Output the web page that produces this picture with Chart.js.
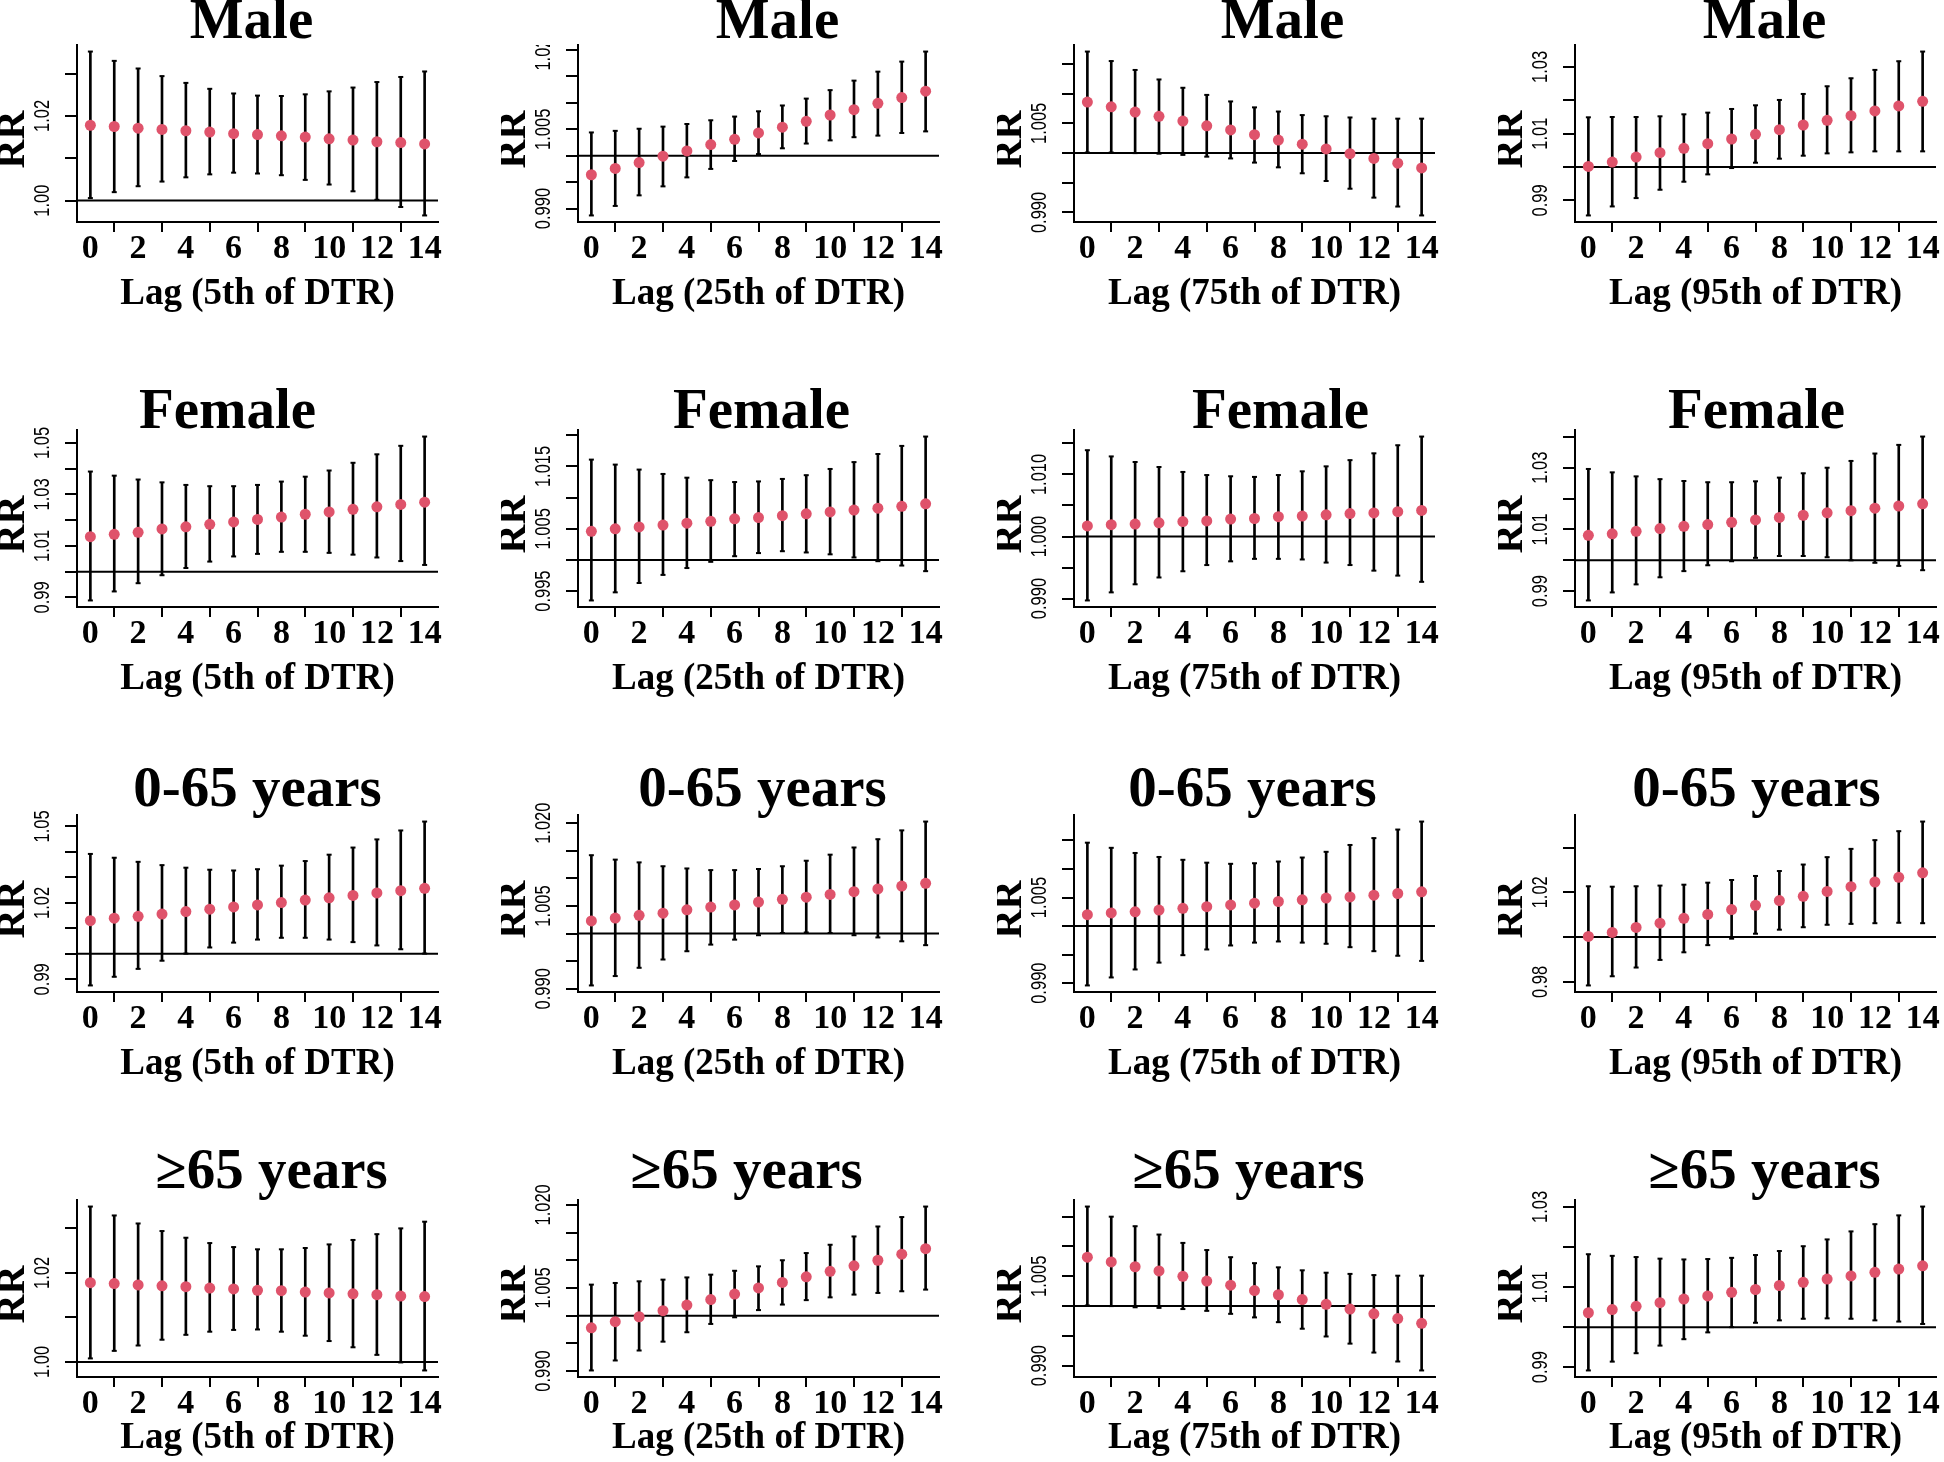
<!DOCTYPE html>
<html>
<head>
<meta charset="utf-8">
<script src="https://cdn.jsdelivr.net/npm/chart.js@4.4.1/dist/chart.umd.min.js"></script>
<style>
body{margin:0;background:#fff;}
#wrap{position:relative;width:1944px;height:1462px;overflow:hidden;background:#fff;}
#wrap canvas{position:absolute;}
</style>
</head>
<body>
<div id="wrap"></div>
<script>
// lags and axis ticks
var lags = [0,1,2,3,4,5,6,7,8,9,10,11,12,13,14];
var xTicks = [0,2,4,6,8,10,12,14];

var rowTitles = ['Male', 'Female', '0-65 years', '\u226565 years'];
var colTitles = ['Lag (5th of DTR)', 'Lag (25th of DTR)', 'Lag (75th of DTR)', 'Lag (95th of DTR)'];

// Male
var male5Est = [1.0178,1.0175,1.0171,1.0168,1.0165,1.0162,1.0158,1.0156,1.0153,1.0150,1.0146,1.0143,1.0139,1.0137,1.0134];
var male5Lo  = [1.0006,1.0020,1.0034,1.0045,1.0055,1.0062,1.0066,1.0064,1.0060,1.0049,1.0038,1.0022,1.0002,0.9985,0.9965];
var male5Hi  = [1.0352,1.0330,1.0312,1.0294,1.0278,1.0264,1.0253,1.0248,1.0247,1.0251,1.0258,1.0267,1.0280,1.0292,1.0305];
var male5Ticks = [1.00,1.01,1.02,1.03];
var male5Text  = ['1.00','','1.02',''];

var male25Est = [0.9964,0.9976,0.9987,0.9999,1.0009,1.0021,1.0031,1.0043,1.0054,1.0065,1.0077,1.0087,1.0099,1.0110,1.0122];
var male25Lo  = [0.9887,0.9905,0.9925,0.9942,0.9959,0.9975,0.9990,1.0003,1.0014,1.0023,1.0029,1.0035,1.0038,1.0043,1.0046];
var male25Hi  = [1.0044,1.0047,1.0051,1.0055,1.0060,1.0067,1.0074,1.0084,1.0095,1.0108,1.0124,1.0142,1.0159,1.0178,1.0197];
var male25Ticks = [0.990,0.995,1.000,1.005,1.010,1.015,1.020];
var male25Text  = ['0.990','','','1.005','','','1.020'];

var male75Est = [1.0086,1.0078,1.0069,1.0062,1.0054,1.0046,1.0039,1.0031,1.0022,1.0015,1.0007,0.9999,0.9991,0.9983,0.9975];
var male75Lo  = [1.0001,1.0001,1.0000,0.9999,0.9997,0.9994,0.9991,0.9984,0.9976,0.9966,0.9953,0.9940,0.9925,0.9910,0.9895];
var male75Hi  = [1.0171,1.0155,1.0140,1.0124,1.0110,1.0098,1.0087,1.0077,1.0070,1.0064,1.0062,1.0060,1.0058,1.0058,1.0058];
var male75Ticks = [0.990,0.995,1.000,1.005,1.010,1.015];
var male75Text  = ['0.990','','','1.005','',''];

var male95Est = [1.0002,1.0015,1.0030,1.0043,1.0056,1.0070,1.0084,1.0098,1.0112,1.0126,1.0140,1.0154,1.0168,1.0183,1.0197];
var male95Lo  = [0.9855,0.9882,0.9907,0.9932,0.9956,0.9978,0.9997,1.0013,1.0025,1.0034,1.0041,1.0044,1.0047,1.0047,1.0047];
var male95Hi  = [1.0149,1.0150,1.0150,1.0152,1.0158,1.0163,1.0174,1.0185,1.0201,1.0219,1.0242,1.0266,1.0291,1.0317,1.0346];
var male95Ticks = [0.99,1.00,1.01,1.02,1.03];
var male95Text  = ['0.99','','1.01','','1.03'];

// Female
var female5Est = [1.0136,1.0145,1.0153,1.0166,1.0174,1.0184,1.0193,1.0203,1.0212,1.0223,1.0232,1.0242,1.0252,1.0261,1.0270];
var female5Lo  = [0.9888,0.9923,0.9955,0.9986,1.0014,1.0039,1.0059,1.0069,1.0077,1.0077,1.0073,1.0066,1.0055,1.0041,1.0026];
var female5Hi  = [1.0389,1.0373,1.0358,1.0347,1.0337,1.0332,1.0332,1.0337,1.0350,1.0369,1.0393,1.0423,1.0456,1.0489,1.0525];
var female5Ticks = [0.99,1.00,1.01,1.02,1.03,1.04,1.05];
var female5Text  = ['0.99','','1.01','','1.03','','1.05'];

var female25Est = [1.0046,1.0050,1.0053,1.0056,1.0059,1.0062,1.0066,1.0068,1.0071,1.0074,1.0077,1.0080,1.0083,1.0086,1.0090];
var female25Lo  = [0.9935,0.9948,0.9963,0.9976,0.9987,0.9997,1.0006,1.0011,1.0014,1.0012,1.0009,1.0004,0.9998,0.9991,0.9982];
var female25Hi  = [1.0161,1.0153,1.0145,1.0138,1.0132,1.0128,1.0125,1.0126,1.0130,1.0136,1.0146,1.0157,1.0170,1.0183,1.0198];
var female25Ticks = [0.995,1.000,1.005,1.010,1.015,1.020];
var female25Text  = ['0.995','','1.005','','1.015',''];

var female75Est = [1.0017,1.0019,1.0020,1.0022,1.0024,1.0025,1.0028,1.0029,1.0032,1.0033,1.0035,1.0037,1.0038,1.0040,1.0042];
var female75Lo  = [0.9897,0.9910,0.9923,0.9934,0.9944,0.9954,0.9960,0.9964,0.9964,0.9963,0.9958,0.9954,0.9945,0.9937,0.9927];
var female75Hi  = [1.0139,1.0129,1.0120,1.0112,1.0104,1.0099,1.0097,1.0096,1.0099,1.0105,1.0113,1.0123,1.0134,1.0147,1.0161];
var female75Ticks = [0.990,0.995,1.000,1.005,1.010,1.015];
var female75Text  = ['0.990','','1.000','','1.010',''];

var female95Est = [1.0081,1.0086,1.0094,1.0103,1.0110,1.0116,1.0123,1.0131,1.0139,1.0146,1.0154,1.0161,1.0169,1.0176,1.0183];
var female95Lo  = [0.9870,0.9896,0.9922,0.9945,0.9965,0.9984,0.9997,1.0008,1.0014,1.0014,1.0010,1.0000,0.9992,0.9982,0.9968];
var female95Hi  = [1.0296,1.0285,1.0272,1.0263,1.0257,1.0253,1.0253,1.0256,1.0268,1.0282,1.0300,1.0322,1.0346,1.0374,1.0401];
var female95Ticks = [0.99,1.00,1.01,1.02,1.03,1.04];
var female95Text  = ['0.99','','1.01','','1.03',''];

// 0-65 years
var young5Est = [1.0130,1.0140,1.0147,1.0156,1.0166,1.0175,1.0184,1.0192,1.0201,1.0211,1.0220,1.0229,1.0239,1.0248,1.0257];
var young5Lo  = [0.9876,0.9910,0.9941,0.9973,1.0001,1.0025,1.0044,1.0056,1.0063,1.0063,1.0056,1.0046,1.0033,1.0018,1.0001];
var young5Hi  = [1.0392,1.0377,1.0361,1.0348,1.0338,1.0330,1.0327,1.0332,1.0346,1.0364,1.0389,1.0417,1.0449,1.0484,1.0519];
var young5Ticks = [0.99,1.00,1.01,1.02,1.03,1.04,1.05];
var young5Text  = ['0.99','','','1.02','','','1.05'];

var young25Est = [1.0023,1.0028,1.0033,1.0037,1.0043,1.0048,1.0052,1.0057,1.0062,1.0066,1.0071,1.0076,1.0081,1.0086,1.0091];
var young25Lo  = [0.9906,0.9923,0.9938,0.9953,0.9968,0.9980,0.9989,0.9997,1.0001,1.0002,1.0001,0.9997,0.9993,0.9986,0.9979];
var young25Hi  = [1.0142,1.0134,1.0129,1.0122,1.0118,1.0115,1.0115,1.0117,1.0122,1.0132,1.0143,1.0156,1.0171,1.0187,1.0203];
var young25Ticks = [0.990,0.995,1.000,1.005,1.010,1.015,1.020];
var young25Text  = ['0.990','','','1.005','','','1.020'];

var young75Est = [1.0020,1.0023,1.0025,1.0028,1.0031,1.0034,1.0037,1.0040,1.0043,1.0046,1.0049,1.0051,1.0054,1.0057,1.0060];
var young75Lo  = [0.9896,0.9910,0.9924,0.9936,0.9949,0.9959,0.9966,0.9971,0.9973,0.9971,0.9969,0.9963,0.9956,0.9948,0.9939];
var young75Hi  = [1.0146,1.0137,1.0128,1.0121,1.0116,1.0111,1.0109,1.0110,1.0113,1.0120,1.0130,1.0142,1.0154,1.0169,1.0183];
var young75Ticks = [0.990,0.995,1.000,1.005,1.010,1.015];
var young75Text  = ['0.990','','','1.005','',''];

var young95Est = [1.0003,1.0021,1.0043,1.0062,1.0084,1.0101,1.0123,1.0142,1.0163,1.0182,1.0204,1.0225,1.0246,1.0267,1.0287];
var young95Lo  = [0.9784,0.9825,0.9864,0.9898,0.9932,0.9964,0.9993,1.0015,1.0033,1.0044,1.0055,1.0059,1.0062,1.0064,1.0062];
var young95Hi  = [1.0227,1.0225,1.0227,1.0230,1.0234,1.0243,1.0255,1.0273,1.0295,1.0324,1.0357,1.0394,1.0433,1.0473,1.0516];
var young95Ticks = [0.98,1.00,1.02,1.04];
var young95Text  = ['0.98','','1.02',''];

// >=65 years
var old5Est = [1.0178,1.0176,1.0173,1.0171,1.0169,1.0166,1.0164,1.0161,1.0160,1.0157,1.0155,1.0153,1.0151,1.0148,1.0147];
var old5Lo  = [1.0008,1.0025,1.0037,1.0050,1.0061,1.0068,1.0072,1.0073,1.0068,1.0059,1.0047,1.0033,1.0016,0.9999,0.9981];
var old5Hi  = [1.0349,1.0329,1.0311,1.0294,1.0279,1.0267,1.0258,1.0253,1.0253,1.0256,1.0264,1.0274,1.0287,1.0300,1.0315];
var old5Ticks = [1.00,1.01,1.02,1.03];
var old5Text  = ['1.00','','1.02',''];

var old25Est = [0.9978,0.9989,0.9998,1.0009,1.0019,1.0029,1.0039,1.0050,1.0060,1.0070,1.0080,1.0090,1.0100,1.0111,1.0121];
var old25Lo  = [0.9901,0.9919,0.9937,0.9953,0.9970,0.9985,0.9997,1.0010,1.0020,1.0028,1.0033,1.0038,1.0041,1.0044,1.0047];
var old25Hi  = [1.0056,1.0059,1.0062,1.0065,1.0069,1.0074,1.0081,1.0089,1.0100,1.0113,1.0128,1.0143,1.0161,1.0178,1.0197];
var old25Ticks = [0.990,0.995,1.000,1.005,1.010,1.015,1.020];
var old25Text  = ['0.990','','','1.005','','','1.020'];

var old75Est = [1.0082,1.0074,1.0066,1.0059,1.0050,1.0042,1.0035,1.0026,1.0019,1.0011,1.0003,0.9995,0.9987,0.9979,0.9971];
var old75Lo  = [1.0001,1.0000,0.9998,0.9997,0.9995,0.9992,0.9987,0.9981,0.9973,0.9962,0.9949,0.9937,0.9922,0.9907,0.9892];
var old75Hi  = [1.0167,1.0150,1.0134,1.0120,1.0106,1.0094,1.0082,1.0072,1.0065,1.0060,1.0056,1.0054,1.0052,1.0051,1.0051];
var old75Ticks = [0.990,0.995,1.000,1.005,1.010,1.015];
var old75Text  = ['0.990','','','1.005','',''];

var old95Est = [1.0036,1.0044,1.0052,1.0061,1.0070,1.0078,1.0087,1.0094,1.0104,1.0112,1.0120,1.0128,1.0137,1.0145,1.0153];
var old95Lo  = [0.9892,0.9914,0.9935,0.9954,0.9970,0.9987,1.0000,1.0011,1.0017,1.0021,1.0022,1.0021,1.0017,1.0014,1.0008];
var old95Hi  = [1.0182,1.0178,1.0175,1.0171,1.0169,1.0170,1.0173,1.0180,1.0190,1.0202,1.0219,1.0239,1.0257,1.0279,1.0301];
var old95Ticks = [0.99,1.00,1.01,1.02,1.03];
var old95Text  = ['0.99','','1.01','','1.03'];

var panels = [
  [male5Est, male5Lo, male5Hi, male5Ticks, male5Text],
  [male25Est, male25Lo, male25Hi, male25Ticks, male25Text],
  [male75Est, male75Lo, male75Hi, male75Ticks, male75Text],
  [male95Est, male95Lo, male95Hi, male95Ticks, male95Text],
  [female5Est, female5Lo, female5Hi, female5Ticks, female5Text],
  [female25Est, female25Lo, female25Hi, female25Ticks, female25Text],
  [female75Est, female75Lo, female75Hi, female75Ticks, female75Text],
  [female95Est, female95Lo, female95Hi, female95Ticks, female95Text],
  [young5Est, young5Lo, young5Hi, young5Ticks, young5Text],
  [young25Est, young25Lo, young25Hi, young25Ticks, young25Text],
  [young75Est, young75Lo, young75Hi, young75Ticks, young75Text],
  [young95Est, young95Lo, young95Hi, young95Ticks, young95Text],
  [old5Est, old5Lo, old5Hi, old5Ticks, old5Text],
  [old25Est, old25Lo, old25Hi, old25Ticks, old25Text],
  [old75Est, old75Lo, old75Hi, old75Ticks, old75Text],
  [old95Est, old95Lo, old95Hi, old95Ticks, old95Text]
];

// layout of the grid (plot area corners on the page)
var plotLeft = [77, 578, 1074, 1575];
var plotTop = [45, 430, 815, 1200];
var titleShift = [[-6,19,28,9],[-30,3,26,1],[0,4,-2,1],[14,-12,-6,9]];
var titleLift = [7, 2, 9, 12];
var xTitlePad = [5, 5, 5, 16];
var xMin = -0.56, xMax = 14.56;

var decor = {
  id: 'decor',
  afterDraw: function(chart, args, o) {
    var ctx = chart.ctx, a = chart.chartArea, ys = chart.scales.y;
    ctx.save();
    ctx.fillStyle = '#000';
    ctx.textAlign = 'center';
    // panel title
    ctx.font = 'bold 57px "Liberation Serif"';
    ctx.textBaseline = 'alphabetic';
    ctx.fillText(o.title, (a.left + a.right) / 2 + o.shift, a.top - o.lift);
    // RR
    ctx.save();
    ctx.translate(a.left - 63, (a.top + a.bottom) / 2 + 6);
    ctx.rotate(-Math.PI / 2);
    ctx.font = 'bold 40px "Liberation Serif"';
    ctx.textBaseline = 'middle';
    ctx.fillText('RR', 0, 0);
    ctx.restore();
    // y tick labels, parallel to the axis
    if (o.clipTop) {
      ctx.beginPath();
      ctx.rect(0, a.top, a.left, chart.height - a.top);
      ctx.clip();
    }
    ctx.font = '22px "Liberation Sans"';
    ctx.textBaseline = 'middle';
    o.ticks.forEach(function(v, i) {
      if (!o.text[i]) return;
      ctx.save();
      ctx.translate(a.left - 34, ys.getPixelForValue(v));
      ctx.rotate(-Math.PI / 2);
      ctx.scale(0.75, 1);
      ctx.fillText(o.text[i], 0, 0);
      ctx.restore();
    });
    ctx.restore();
  }
};

var wrap = document.getElementById('wrap');

panels.forEach(function(p, k) {
  var r = Math.floor(k / 4), c = k % 4;
  var est = p[0], lo = p[1], hi = p[2], ticks = p[3], text = p[4];
  var cv = document.createElement('canvas');
  cv.width = 446;
  cv.height = 337;
  cv.style.left = (plotLeft[c] - 77) + 'px';
  cv.style.top = (plotTop[r] - 60) + 'px';
  wrap.appendChild(cv);

  var yLo = Math.min.apply(null, lo), yHi = Math.max.apply(null, hi);
  var ext = (yHi - yLo) * 0.04;

  var bars = lags.map(function(l, i) { return {x: l, y: [lo[i], hi[i]]}; });
  var caps = [];
  lags.forEach(function(l, i) { caps.push({x: l, y: lo[i]}, {x: l, y: hi[i]}); });
  var pts = lags.map(function(l, i) { return {x: l, y: est[i]}; });

  new Chart(cv, {
    type: 'bar',
    data: {
      datasets: [
        {type: 'line', data: pts, showLine: false, pointRadius: 5.5, pointBackgroundColor: '#DF536B', pointBorderWidth: 0, order: 0},
        {type: 'line', data: [{x: xMin, y: 1}, {x: xMax, y: 1}], borderColor: '#000', borderWidth: 2, pointRadius: 0, order: 1},
        {type: 'line', data: caps, showLine: false, pointStyle: 'line', pointRadius: 2.5, pointBorderColor: '#000', pointBorderWidth: 2, order: 2},
        {type: 'bar', data: bars, backgroundColor: '#000', barThickness: 2, order: 3}
      ]
    },
    options: {
      responsive: false,
      animation: false,
      devicePixelRatio: 1,
      events: [],
      layout: {padding: {top: 60, right: 8, left: 0, bottom: 0}},
      plugins: {
        legend: {display: false},
        tooltip: {enabled: false},
        decor: {title: rowTitles[r], shift: titleShift[r][c], lift: titleLift[r], ticks: ticks, text: text, clipTop: k === 1}
      },
      scales: {
        x: {
          type: 'linear', min: xMin, max: xMax, offset: false,
          afterBuildTicks: function(s) { s.ticks = xTicks.map(function(v) { return {value: v}; }); },
          afterFit: function(s) { s.height = 100; },
          grid: {display: true, drawOnChartArea: false, drawTicks: true, tickLength: 10, color: '#000', lineWidth: 2},
          border: {display: true, color: '#000', width: 2},
          ticks: {autoSkip: false, maxRotation: 0, color: '#000', padding: 0,
                  font: {family: '"Liberation Serif"', weight: 'bold', size: 34, lineHeight: 1}},
          title: {display: true, text: colTitles[c], color: '#000', padding: {top: 0, bottom: xTitlePad[r]},
                  font: {family: '"Liberation Serif"', weight: 'bold', size: 37}}
        },
        y: {
          type: 'linear', min: yLo - ext, max: yHi + ext,
          afterBuildTicks: function(s) { s.ticks = ticks.map(function(v) { return {value: v}; }); },
          afterFit: function(s) { s.width = 77; },
          grid: {display: true, drawOnChartArea: false, drawTicks: true, tickLength: 12, color: '#000', lineWidth: 2},
          border: {display: true, color: '#000', width: 2},
          ticks: {display: false}
        }
      }
    },
    plugins: [decor]
  });
});
</script>
</body>
</html>
